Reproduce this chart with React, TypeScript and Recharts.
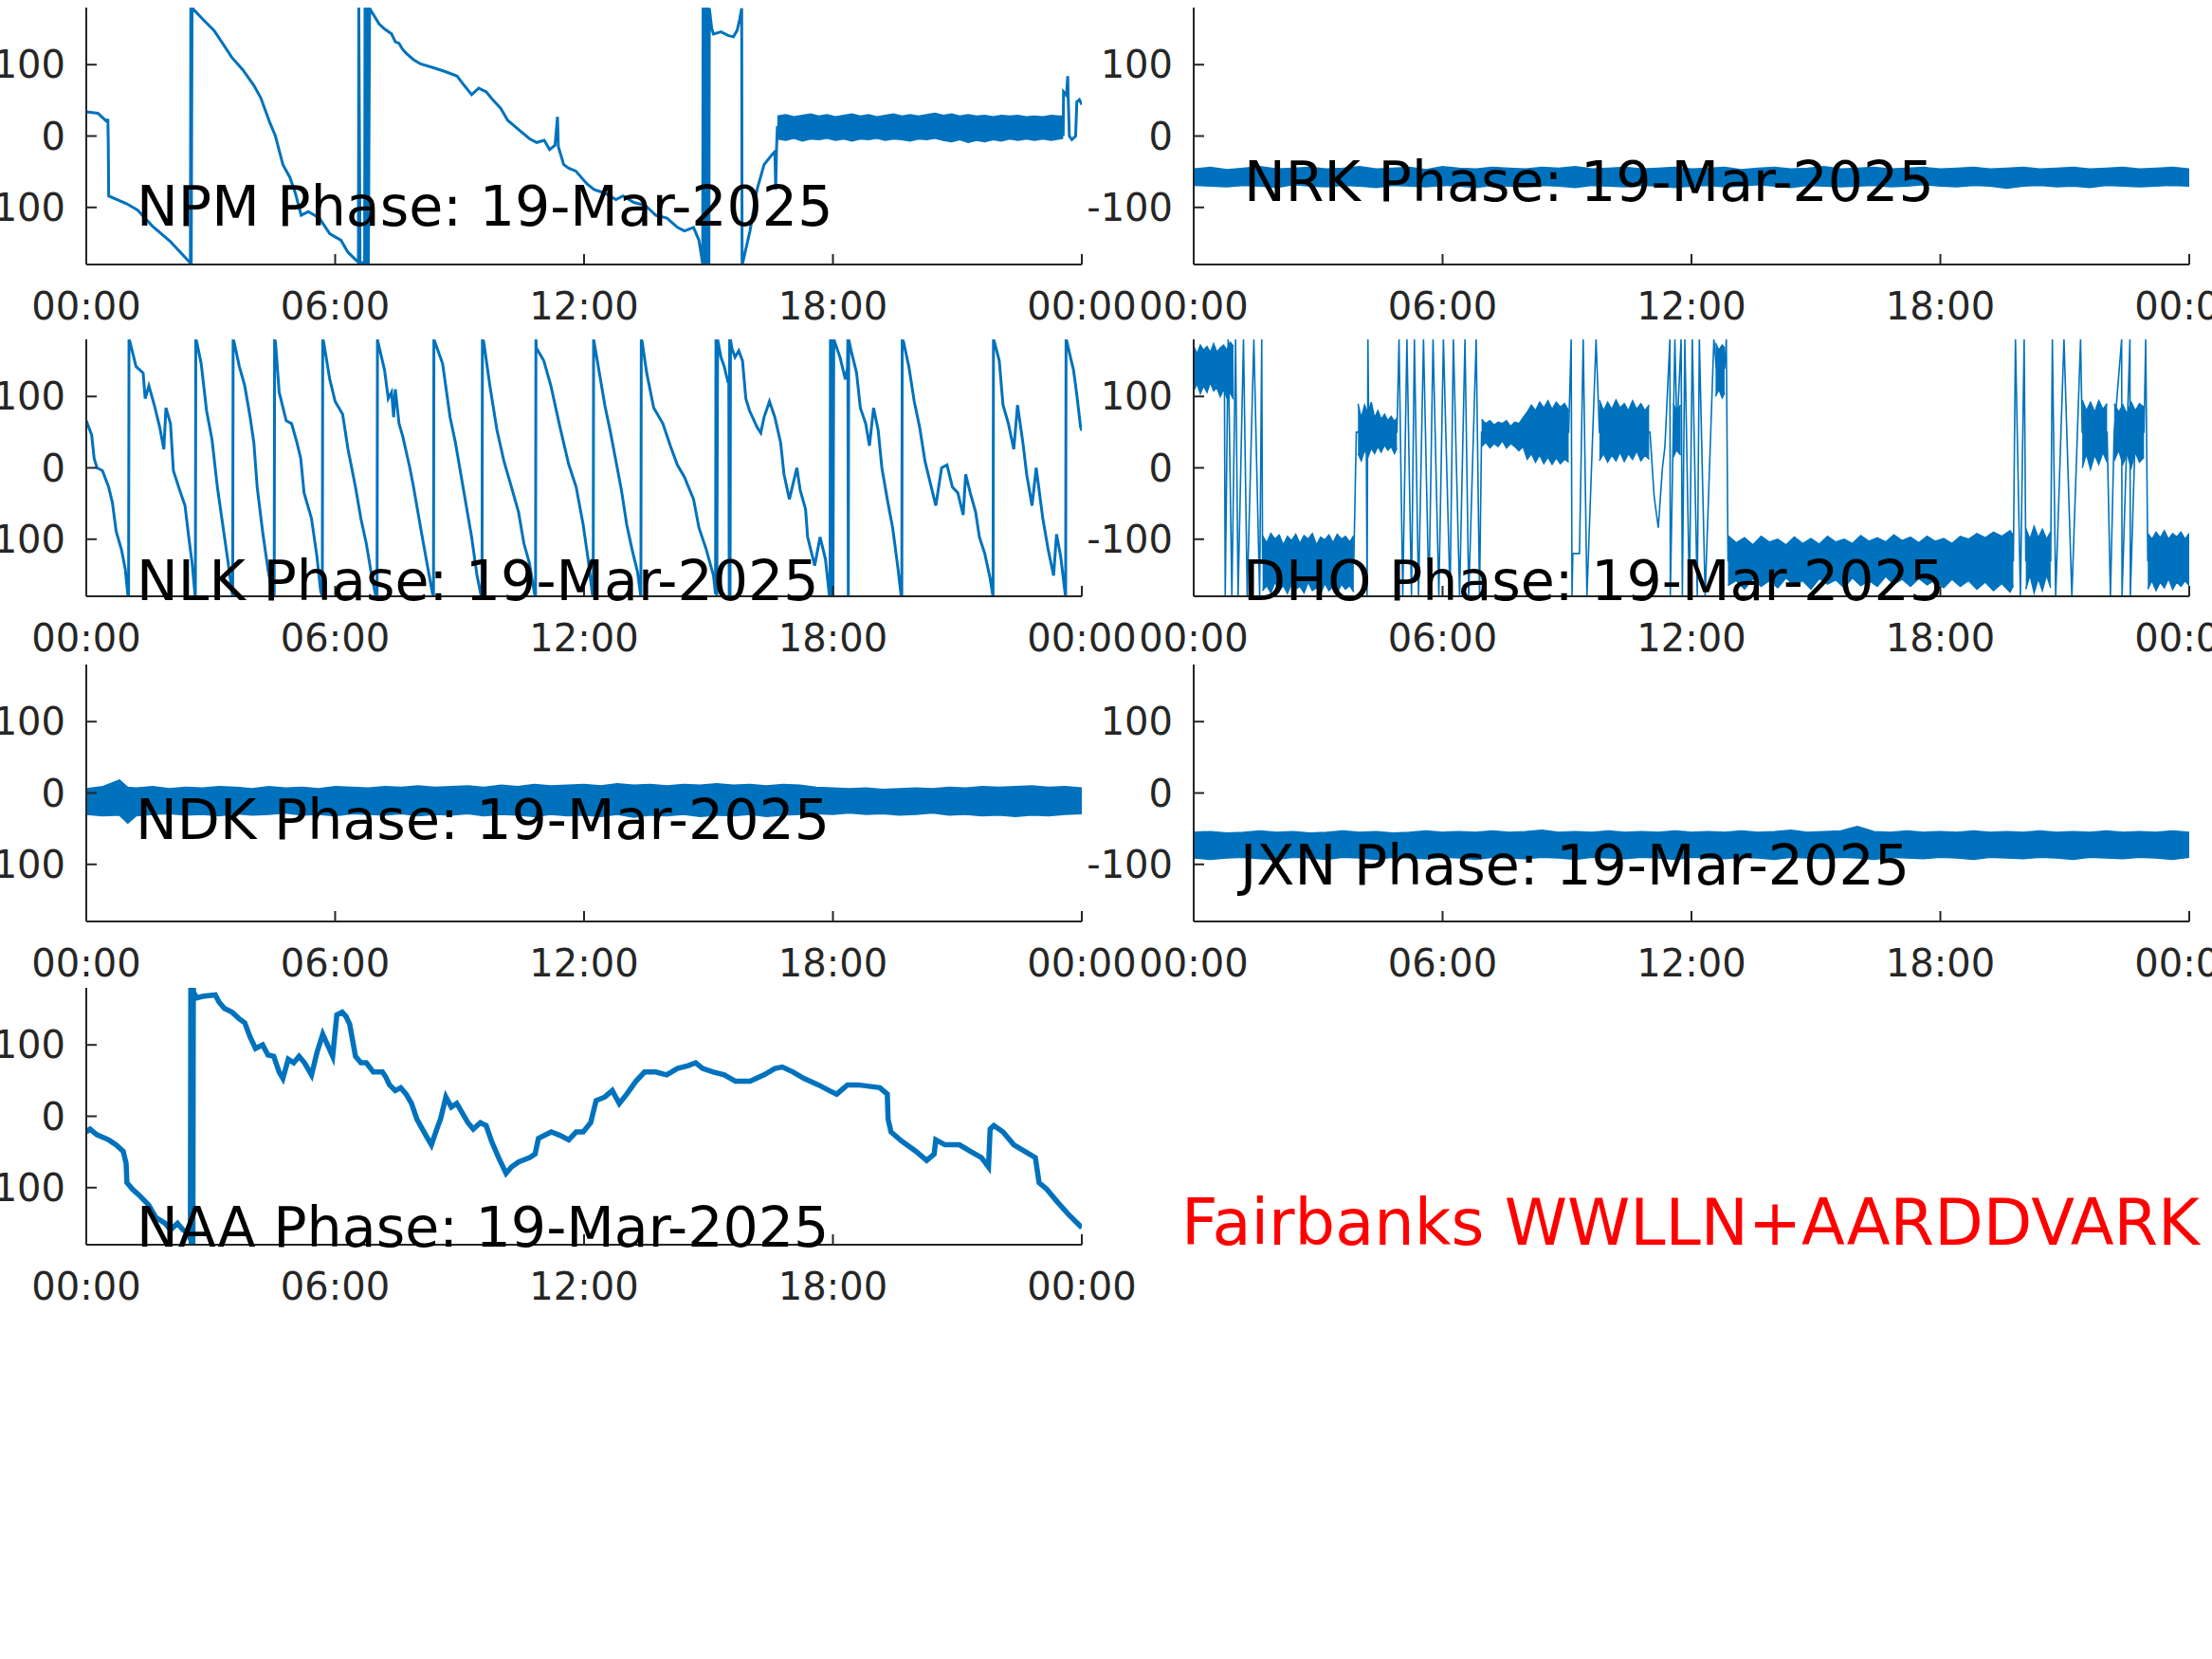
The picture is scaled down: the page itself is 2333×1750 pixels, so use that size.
import React from "react";
import { ComposedChart, Line, Area, XAxis, YAxis } from "recharts";

// [hour, phase deg] traces and [hour, low, high] noise bands

const hourTicks = [0, 6, 12, 18, 24];
const hourLabels = ["00:00", "06:00", "12:00", "18:00", "00:00"];
const phaseTicks = [-100, 0, 100];

const npmTrace: [number, number][] = [
  [0, 34], [0.28, 32], [0.5, 20], [0.52, 24], [0.53, -9], [0.54, -84], [0.98, -95], [1.24, -104],
  [1.59, -126], [2.03, -148], [2.51, -178], [2.52, 180], [2.53, -180], [2.55, 180], [2.56, 179],
  [2.82, 163], [3.08, 148], [3.16, 141], [3.51, 110], [3.77, 93], [4.04, 71], [4.21, 53], [4.43, 18],
  [4.56, 0], [4.74, -40], [4.91, -58], [5.04, -80], [5.18, -111], [5.35, -106], [5.62, -115],
  [5.87, -137], [6.14, -146], [6.31, -163], [6.56, -177], [6.57, 180], [6.6, -179], [6.71, -176],
  [6.72, 180], [6.74, -178], [6.77, -176], [6.78, 180], [6.8, -180], [6.83, 180], [6.84, 178],
  [7.06, 157], [7.19, 150], [7.36, 143], [7.45, 132], [7.54, 130], [7.62, 122], [7.71, 116],
  [7.89, 107], [8.06, 101], [8.41, 95], [8.67, 90], [8.94, 84], [9.11, 71], [9.29, 58], [9.46, 67],
  [9.64, 62], [9.81, 50], [9.99, 39], [10.16, 22], [10.42, 9], [10.69, -4], [10.86, -9], [11.04, -6],
  [11.17, -19], [11.3, -13], [11.36, 27], [11.38, -15], [11.51, -40], [11.63, -45], [11.8, -49],
  [12.07, -67], [12.24, -75], [12.5, -80], [12.77, -89], [12.94, -84], [13.2, -93], [13.47, -97],
  [13.73, -111], [14.0, -115], [14.25, -128], [14.42, -133], [14.64, -128], [14.77, -146],
  [14.86, -179], [14.87, 180], [14.89, -180], [14.91, 180], [14.93, -180], [14.95, 180],
  [14.97, -180], [14.99, 180], [15.01, -180], [15.02, 179], [15.08, 150], [15.12, 143], [15.3, 146],
  [15.47, 141], [15.6, 139], [15.69, 148], [15.75, 163], [15.8, 179], [15.81, -180], [15.82, -179],
  [16.0, -133], [16.17, -75], [16.34, -40], [16.52, -27], [16.6, -22], [16.62, -75], [16.64, -18],
  [16.66, 12], [23.54, 12], [23.55, 0], [23.56, 62], [23.63, 57], [23.66, 84], [23.67, 57],
  [23.7, 0], [23.76, -5], [23.85, 0], [23.88, 48], [23.94, 51], [24, 44],
];

const npmBand: [number, number, number][] = [
  [16.66, -4, 28], [16.86, -6, 30], [17.06, -3, 27], [17.26, -7, 29], [17.46, -4, 31], [17.66, -5, 28],
  [17.86, -3, 30], [18.06, -6, 27], [18.26, -4, 29], [18.46, -7, 31], [18.66, -4, 28], [18.86, -5, 30],
  [19.06, -3, 27], [19.26, -6, 29], [19.46, -4, 31], [19.66, -5, 28], [19.86, -7, 30], [20.06, -4, 28],
  [20.26, -5, 30], [20.46, -3, 32], [20.66, -6, 29], [20.86, -8, 31], [21.06, -5, 28], [21.26, -9, 30],
  [21.46, -6, 28], [21.66, -8, 29], [21.86, -5, 27], [22.06, -7, 29], [22.26, -4, 28], [22.46, -6, 29],
  [22.66, -4, 27], [22.86, -6, 28], [23.06, -4, 27], [23.26, -6, 29], [23.46, -4, 28], [23.55, -3, 28],
];

const nrkBand: [number, number, number][] = [
  [0, -69, -46], [0.4, -70, -44], [0.8, -71, -47], [1.2, -69, -45], [1.6, -70, -43], [2.0, -72, -46],
  [2.4, -68, -45], [2.8, -70, -44], [3.2, -71, -46], [3.6, -69, -45], [4.0, -70, -43], [4.4, -72, -46],
  [4.8, -69, -45], [5.2, -70, -44], [5.6, -71, -47], [6.0, -69, -43], [6.4, -70, -45], [6.8, -72, -46],
  [7.2, -69, -44], [7.6, -70, -45], [8.0, -71, -46], [8.4, -69, -44], [8.8, -70, -45], [9.2, -72, -43],
  [9.6, -69, -46], [10.0, -70, -45], [10.4, -71, -44], [10.8, -69, -46], [11.2, -70, -45], [11.6, -72, -44],
  [12.0, -70, -46], [12.4, -69, -45], [12.8, -71, -44], [13.2, -70, -47], [13.6, -68, -45], [14.0, -70, -44],
  [14.4, -72, -46], [14.8, -69, -45], [15.2, -70, -43], [15.6, -71, -46], [16.0, -70, -45], [16.4, -69, -44],
  [16.8, -71, -46], [17.2, -70, -45], [17.6, -68, -44], [18.0, -70, -46], [18.4, -71, -45], [18.8, -69, -44],
  [19.2, -70, -46], [19.6, -73, -45], [20.0, -70, -44], [20.4, -69, -46], [20.8, -71, -45], [21.2, -70, -44],
  [21.6, -72, -46], [22.0, -69, -45], [22.4, -70, -44], [22.8, -71, -46], [23.2, -70, -45], [23.6, -69, -44],
  [24, -70, -46],
];

const nlkTrace: [number, number][] = [
  [0, 66], [0.13, 46], [0.19, 13], [0.26, 0], [0.39, -4], [0.54, -27], [0.63, -49], [0.72, -89],
  [0.85, -115], [0.94, -142], [1.0, -177], [1.02, -180], [1.03, 180], [1.05, 177], [1.2, 142],
  [1.37, 133], [1.42, 97], [1.51, 115], [1.64, 88], [1.77, 57], [1.87, 26], [1.92, 84], [2.03, 62],
  [2.1, -4], [2.25, -31], [2.38, -53], [2.47, -97], [2.55, -133], [2.62, -177], [2.63, -180],
  [2.64, 180], [2.66, 177], [2.77, 146], [2.9, 80], [3.03, 40], [3.16, -27], [3.29, -80], [3.42, -133],
  [3.51, -173], [3.53, -180], [3.54, 180], [3.56, 177], [3.69, 142], [3.82, 115], [3.95, 71],
  [4.04, 35], [4.12, -27], [4.25, -89], [4.38, -142], [4.49, -177], [4.53, -180], [4.54, 180],
  [4.56, 177], [4.65, 106], [4.82, 66], [4.95, 62], [5.08, 35], [5.17, 13], [5.25, -35], [5.43, -71],
  [5.56, -124], [5.65, -173], [5.69, -180], [5.7, 180], [5.72, 177], [5.87, 124], [6.0, 93],
  [6.18, 75], [6.31, 26], [6.49, -27], [6.62, -71], [6.75, -106], [6.88, -151], [6.97, -177],
  [7.01, -180], [7.02, 180], [7.03, 177], [7.19, 137], [7.28, 97], [7.36, 106], [7.41, 71],
  [7.45, 110], [7.54, 62], [7.63, 44], [7.8, 0], [7.89, -27], [8.06, -84], [8.24, -142], [8.35, -177],
  [8.37, -180], [8.38, 180], [8.4, 177], [8.59, 146], [8.77, 71], [8.9, 35], [9.03, -9], [9.16, -53],
  [9.29, -97], [9.42, -151], [9.51, -177], [9.54, -180], [9.55, 180], [9.58, 177], [9.73, 115],
  [9.9, 53], [10.07, 9], [10.25, -27], [10.42, -62], [10.55, -106], [10.68, -133], [10.81, -177],
  [10.83, -180], [10.84, 180], [10.85, 168], [11.03, 150], [11.2, 115], [11.42, 57], [11.63, 5],
  [11.81, -27], [11.98, -80], [12.11, -133], [12.2, -177], [12.22, -180], [12.23, 180], [12.24, 177],
  [12.37, 133], [12.5, 88], [12.64, 49], [12.77, 9], [12.9, -31], [13.03, -80], [13.16, -115],
  [13.29, -146], [13.36, -177], [13.37, -180], [13.38, 180], [13.4, 177], [13.51, 133], [13.68, 84],
  [13.9, 62], [14.08, 31], [14.25, 4], [14.42, -13], [14.64, -44], [14.77, -84], [14.95, -115],
  [15.12, -151], [15.17, -177], [15.18, 180], [15.2, -180], [15.22, 180], [15.23, 177], [15.3, 155],
  [15.38, 142], [15.47, 120], [15.49, 119], [15.5, -180], [15.51, 180], [15.52, -180], [15.53, 180],
  [15.56, 168], [15.64, 155], [15.73, 164], [15.82, 150], [15.9, 97], [15.99, 80], [16.17, 57],
  [16.26, 49], [16.34, 71], [16.47, 93], [16.6, 71], [16.74, 35], [16.82, -9], [16.95, -44],
  [17.13, 0], [17.21, -31], [17.34, -58], [17.39, -97], [17.56, -137], [17.69, -97], [17.82, -128],
  [17.91, -177], [17.93, -180], [17.94, 180], [17.96, -180], [17.98, 180], [18.0, -180], [18.02, 180],
  [18.04, 177], [18.17, 155], [18.3, 124], [18.35, 140], [18.36, 180], [18.37, -180], [18.38, 180],
  [18.44, 164], [18.57, 133], [18.66, 84], [18.79, 62], [18.88, 31], [18.98, 84], [19.09, 53],
  [19.18, 0], [19.31, -44], [19.44, -84], [19.57, -142], [19.64, -177], [19.66, -180], [19.67, 180],
  [19.7, 177], [19.83, 142], [19.96, 93], [20.09, 57], [20.22, 9], [20.35, -22], [20.48, -53],
  [20.62, 0], [20.75, 4], [20.88, -27], [21.01, -35], [21.14, -66], [21.2, -9], [21.31, -35],
  [21.44, -62], [21.53, -97], [21.66, -120], [21.79, -155], [21.85, -177], [21.86, -180], [21.87, 180],
  [21.89, 177], [22.01, 150], [22.1, 88], [22.23, 62], [22.36, 26], [22.45, 88], [22.58, 35],
  [22.67, -9], [22.8, -53], [22.9, 0], [23.06, -71], [23.19, -115], [23.32, -151], [23.39, -93],
  [23.49, -124], [23.6, -177], [23.61, -180], [23.62, 180], [23.64, 177], [23.71, 159], [23.8, 137],
  [23.88, 102], [23.97, 57], [24, 52],
];

const dhoTrace: [number, number][] = [
  [0, 140], [0.74, 135], [0.76, -180], [0.83, 180], [0.92, -180], [1.01, 180], [1.07, -180], [1.2, 180],
  [1.29, -180], [1.45, 180], [1.59, -180], [1.64, 180], [1.66, -130], [3.86, -130], [3.92, 50],
  [4.16, 50], [4.18, -180], [4.2, 180], [4.22, 50], [4.9, 50], [4.95, 180], [5.04, -180], [5.14, 180],
  [5.25, -180], [5.32, 180], [5.42, -180], [5.54, 180], [5.67, -180], [5.77, 180], [5.91, -180],
  [6.02, 180], [6.18, -180], [6.26, 180], [6.41, -180], [6.54, 180], [6.63, -180], [6.81, 180],
  [6.89, -180], [6.94, 50], [9.04, 50], [9.1, 180], [9.12, -180], [9.14, -120], [9.3, -120],
  [9.39, 180], [9.48, -180], [9.7, 180], [9.78, 50], [11.0, 50], [11.1, -40], [11.2, -84], [11.3, 0],
  [11.36, 30], [11.48, 180], [11.49, -180], [11.6, 180], [11.65, 50], [11.75, 180], [11.78, -180],
  [11.84, 180], [11.95, -180], [12.02, 180], [12.14, -180], [12.19, 180], [12.33, -180], [12.54, 180],
  [12.6, 140], [12.8, 140], [12.84, 180], [12.88, -130], [19.76, -130], [19.81, 180], [19.93, -180],
  [20.02, 180], [20.06, -130], [20.66, -130], [20.7, 180], [20.78, -180], [20.98, 180], [21.17, -180],
  [21.38, 180], [21.42, 50], [22.02, 50], [22.1, -180], [22.19, 50], [22.37, 180], [22.38, -180],
  [22.57, 180], [22.58, -180], [22.7, 50], [22.91, 50], [22.95, 180], [23.0, -130], [24, -130],
];

const dhoBandA: [number, number, number][] = [
  [0, 108, 170], [0.08, 118, 160], [0.16, 104, 172], [0.24, 115, 165], [0.32, 106, 170], [0.4, 120, 162],
  [0.48, 108, 174], [0.56, 112, 162], [0.64, 100, 168], [0.72, 110, 172], [0.8, 98, 165], [0.88, 105, 176],
  [0.96, 96, 170],
];
const dhoBandC: [number, number, number][] = [
  [1.66, -172, -95], [1.76, -165, -105], [1.86, -175, -92], [1.96, -160, -100], [2.06, -172, -94],
  [2.16, -165, -108], [2.26, -176, -96], [2.36, -162, -102], [2.46, -170, -93], [2.56, -166, -106],
  [2.66, -175, -95], [2.76, -160, -100], [2.86, -172, -92], [2.96, -168, -108], [3.06, -176, -97],
  [3.16, -162, -101], [3.26, -172, -94], [3.36, -166, -105], [3.46, -175, -93], [3.56, -163, -100],
  [3.66, -170, -96], [3.76, -165, -104], [3.86, -174, -95],
];
const dhoBandD: [number, number, number][] = [
  [3.96, 20, 90], [4.04, 10, 70], [4.12, 25, 88], [4.2, 15, 75], [4.28, 28, 92], [4.36, 20, 70],
  [4.44, 30, 80], [4.52, 22, 68], [4.6, 32, 75], [4.68, 25, 66], [4.76, 30, 72], [4.84, 20, 65],
  [4.9, 28, 70],
];
const dhoBandE: [number, number, number][] = [
  [6.94, 30, 68], [7.04, 36, 62], [7.14, 28, 66], [7.24, 34, 60], [7.34, 30, 64], [7.44, 38, 62],
  [7.54, 28, 66], [7.64, 34, 58], [7.74, 30, 64], [7.84, 24, 62], [7.94, 30, 70], [8.04, 12, 78],
  [8.14, 20, 88], [8.24, 8, 80], [8.34, 18, 92], [8.44, 6, 84], [8.54, 15, 94], [8.64, 5, 82],
  [8.74, 14, 92], [8.84, 6, 85], [8.94, 12, 90], [9.04, 8, 80],
];
const dhoBandG: [number, number, number][] = [
  [9.78, 10, 95], [9.88, 20, 80], [9.98, 8, 92], [10.08, 18, 82], [10.18, 10, 95], [10.28, 22, 84],
  [10.38, 9, 90], [10.48, 20, 80], [10.58, 12, 94], [10.68, 24, 82], [10.78, 10, 90], [10.88, 18, 80],
  [10.98, 12, 88],
];
const dhoBandI: [number, number, number][] = [
  [11.56, 15, 90], [11.64, 25, 80], [11.74, 18, 88],
];
const dhoBandI2: [number, number, number][] = [
  [12.58, 100, 175], [12.66, 110, 165], [12.74, 98, 172], [12.8, 105, 168],
];
const dhoBandJ: [number, number, number][] = [
  [12.88, -165, -95], [13.08, -158, -105], [13.28, -170, -98], [13.48, -155, -108], [13.68, -166, -96],
  [13.88, -158, -104], [14.08, -168, -100], [14.28, -154, -108], [14.48, -165, -97], [14.68, -158, -106],
  [14.88, -170, -99], [15.08, -155, -107], [15.28, -163, -96], [15.48, -157, -104], [15.68, -168, -100],
  [15.88, -154, -106], [16.08, -165, -95], [16.28, -158, -103], [16.48, -166, -98], [16.68, -152, -104],
  [16.88, -163, -94], [17.08, -156, -102], [17.28, -166, -97], [17.48, -155, -105], [17.68, -164, -96],
  [17.88, -157, -103], [18.08, -168, -99], [18.28, -156, -106], [18.48, -166, -96], [18.68, -158, -100],
  [18.88, -170, -92], [19.08, -160, -98], [19.28, -172, -90], [19.48, -162, -96], [19.68, -174, -88],
  [19.76, -165, -95],
];
const dhoBandK1: [number, number, number][] = [
  [20.06, -170, -85], [20.16, -150, -100], [20.26, -175, -82], [20.36, -155, -98], [20.46, -172, -86],
  [20.56, -150, -100], [20.66, -168, -90],
];
const dhoBandK2: [number, number, number][] = [
  [21.42, 0, 95], [21.52, 20, 80], [21.62, -2, 92], [21.72, 18, 78], [21.82, 5, 94], [21.92, 22, 82],
  [22.02, 8, 90],
];
const dhoBandK3: [number, number, number][] = [
  [22.19, 10, 90], [22.3, 25, 78], [22.4, 5, 88], [22.5, 20, 75], [22.6, 0, 92], [22.7, 22, 80],
  [22.8, 8, 90], [22.91, 15, 85],
];
const dhoBandL: [number, number, number][] = [
  [23.0, -170, -92], [23.1, -158, -100], [23.2, -172, -90], [23.3, -160, -98], [23.4, -168, -88],
  [23.5, -155, -100], [23.6, -170, -92], [23.7, -160, -97], [23.8, -166, -90], [23.9, -158, -100],
  [24, -165, -92],
];

const ndkBand: [number, number, number][] = [
  [0, -30, 6], [0.4, -32, 9], [0.8, -31, 18], [1.0, -42, 8], [1.2, -32, 7], [1.6, -30, 9], [2.0, -29, 6],
  [2.4, -31, 8], [2.8, -30, 7], [3.2, -32, 9], [3.6, -29, 8], [4.0, -31, 6], [4.4, -30, 9], [4.8, -28, 7],
  [5.2, -31, 8], [5.6, -30, 6], [6.0, -32, 9], [6.4, -29, 8], [6.8, -30, 7], [7.2, -31, 9], [7.6, -29, 8],
  [8.0, -32, 10], [8.4, -30, 8], [8.8, -31, 9], [9.2, -29, 10], [9.6, -32, 8], [10.0, -30, 11],
  [10.4, -31, 9], [10.8, -33, 12], [11.2, -30, 10], [11.6, -32, 11], [12.0, -31, 12], [12.4, -33, 10],
  [12.8, -30, 13], [13.2, -34, 11], [13.6, -31, 12], [14.0, -32, 10], [14.4, -30, 12], [14.8, -33, 11],
  [15.2, -31, 13], [15.6, -32, 11], [16.0, -30, 12], [16.4, -33, 10], [16.8, -31, 12], [17.2, -30, 11],
  [17.6, -29, 8], [18.0, -30, 7], [18.4, -28, 6], [18.8, -30, 7], [19.2, -29, 5], [19.6, -31, 6],
  [20.0, -30, 7], [20.4, -28, 6], [20.8, -31, 8], [21.2, -30, 7], [21.6, -32, 9], [22.0, -31, 8],
  [22.4, -33, 9], [22.8, -31, 10], [23.2, -32, 8], [23.6, -30, 9], [24, -29, 7],
];

const jxnBand: [number, number, number][] = [
  [0, -91, -55], [0.4, -93, -54], [0.8, -91, -56], [1.2, -90, -55], [1.6, -92, -53], [2.0, -93, -55],
  [2.4, -90, -54], [2.8, -91, -56], [3.2, -93, -55], [3.6, -90, -53], [4.0, -91, -55], [4.4, -93, -54],
  [4.8, -90, -56], [5.2, -91, -55], [5.6, -92, -53], [6.0, -90, -55], [6.4, -91, -54], [6.8, -93, -55],
  [7.2, -90, -53], [7.6, -91, -55], [8.0, -92, -54], [8.4, -90, -52], [8.8, -91, -55], [9.2, -93, -54],
  [9.6, -90, -55], [10.0, -91, -53], [10.4, -92, -55], [10.8, -90, -54], [11.2, -91, -55], [11.6, -93, -53],
  [12.0, -90, -55], [12.4, -91, -54], [12.8, -92, -55], [13.2, -90, -53], [13.6, -91, -55], [14.0, -93, -54],
  [14.4, -90, -52], [14.8, -91, -55], [15.2, -92, -54], [15.6, -90, -53], [16.0, -91, -47], [16.4, -93, -54],
  [16.8, -90, -55], [17.2, -91, -53], [17.6, -92, -55], [18.0, -90, -54], [18.4, -91, -55], [18.8, -93, -53],
  [19.2, -90, -55], [19.6, -91, -54], [20.0, -92, -55], [20.4, -90, -53], [20.8, -91, -55], [21.2, -93, -54],
  [21.6, -90, -55], [22.0, -91, -53], [22.4, -92, -55], [22.8, -90, -54], [23.2, -91, -55], [23.6, -93, -53],
  [24, -90, -55],
];

const naaTrace: [number, number][] = [
  [0, -22], [0.09, -18], [0.26, -26], [0.54, -33], [0.72, -40], [0.89, -49], [0.96, -66], [0.98, -93],
  [1.11, -102], [1.28, -111], [1.5, -124], [1.68, -142], [1.9, -150], [2.03, -159], [2.2, -150],
  [2.33, -159], [2.46, -164], [2.51, -173], [2.52, 180], [2.53, -180], [2.54, 180], [2.55, -180],
  [2.56, 180], [2.57, -180], [2.58, 180], [2.59, 173], [2.67, 166], [2.8, 168], [3.11, 170],
  [3.2, 160], [3.33, 151], [3.51, 146], [3.68, 137], [3.82, 131], [3.95, 111], [4.08, 95], [4.25, 100],
  [4.38, 86], [4.52, 84], [4.65, 62], [4.74, 53], [4.87, 80], [5.0, 75], [5.13, 84], [5.26, 75],
  [5.43, 58], [5.56, 89], [5.7, 115], [5.83, 98], [5.94, 84], [6.04, 142], [6.17, 146], [6.26, 140],
  [6.35, 129], [6.49, 84], [6.62, 75], [6.75, 75], [6.92, 62], [7.14, 62], [7.22, 55], [7.31, 44],
  [7.45, 36], [7.58, 40], [7.71, 31], [7.84, 18], [7.97, -4], [8.19, -27], [8.32, -40], [8.45, -18],
  [8.54, -4], [8.67, 27], [8.8, 13], [8.93, 18], [9.06, 5], [9.2, -9], [9.33, -18], [9.5, -9],
  [9.64, -13], [9.77, -35], [9.94, -58], [10.12, -80], [10.25, -71], [10.42, -64], [10.69, -58],
  [10.82, -53], [10.9, -31], [11.04, -27], [11.21, -22], [11.43, -27], [11.63, -33], [11.81, -22],
  [11.98, -22], [12.16, -9], [12.29, 22], [12.5, 27], [12.68, 36], [12.85, 18], [13.03, 31],
  [13.25, 49], [13.46, 62], [13.73, 62], [13.99, 58], [14.25, 67], [14.51, 71], [14.69, 75],
  [14.86, 67], [15.12, 62], [15.38, 58], [15.65, 49], [16.0, 49], [16.34, 58], [16.6, 67],
  [16.78, 69], [17.04, 62], [17.3, 53], [17.65, 44], [17.91, 36], [18.09, 31], [18.35, 44],
  [18.61, 44], [18.87, 42], [19.13, 40], [19.31, 31], [19.33, -4], [19.4, -22], [19.66, -35],
  [20.0, -49], [20.26, -62], [20.44, -53], [20.48, -33], [20.7, -40], [21.05, -40], [21.31, -49],
  [21.58, -58], [21.75, -71], [21.79, -18], [21.88, -13], [22.1, -22], [22.36, -40], [22.62, -49],
  [22.88, -58], [22.97, -93], [23.15, -102], [23.41, -120], [23.67, -137], [24, -156],
];

const BLUE = "#0072BD";
const AXIS = "#262626";
const FONT = "'DejaVu Sans', sans-serif";

const PLOT_W = 1050;
const PLOT_H = 271;
const PAD_L = 140;
const PAD_T = 10;
const PAD_R = 70;
const PAD_B = 70;
const TICK = 11;

const BottomTick = (props: any) => {
  const { x, y, payload } = props;
  const label = hourLabels[hourTicks.indexOf(payload.value)];
  return (
    <g>
      <line x1={x} y1={y} x2={x} y2={y - TICK} stroke={AXIS} strokeWidth={2} />
      <text x={x} y={y + 58} textAnchor="middle" fontSize={40} fontFamily={FONT} fill={AXIS}>
        {label}
      </text>
    </g>
  );
};

const TopTick = (props: any) => {
  const { x, y } = props;
  return <line x1={x} y1={y} x2={x} y2={y + TICK} stroke={AXIS} strokeWidth={2} />;
};

const LeftTick = (props: any) => {
  const { x, y, payload } = props;
  return (
    <g>
      <line x1={x} y1={y} x2={x + TICK} y2={y} stroke={AXIS} strokeWidth={2} />
      <text x={x - 22} y={y + 14} textAnchor="end" fontSize={40} fontFamily={FONT} fill={AXIS}>
        {payload.value}
      </text>
    </g>
  );
};

const RightTick = (props: any) => {
  const { x, y } = props;
  return <line x1={x} y1={y} x2={x - TICK} y2={y} stroke={AXIS} strokeWidth={2} />;
};

interface PanelProps {
  left: number;
  top: number;
  trace?: [number, number][];
  bands?: [number, number, number][][];
  lineWidth?: number;
}

function Panel({ left, top, trace = [], bands = [], lineWidth = 2 }: PanelProps) {
  const lineData = trace.map(([t, v]) => ({ t, v }));
  const axisLine = { stroke: AXIS, strokeWidth: 2 };
  return (
    <div style={{ position: "absolute", left: left - PAD_L, top: top - PAD_T }}>
      <ComposedChart
        width={PAD_L + PLOT_W + PAD_R}
        height={PAD_T + PLOT_H + PAD_B}
        margin={{ top: PAD_T, right: PAD_R, bottom: 0, left: 0 }}
      >
        <XAxis
          xAxisId="b"
          dataKey="t"
          type="number"
          domain={[0, 24]}
          ticks={hourTicks}
          allowDataOverflow
          height={PAD_B}
          tickSize={0}
          tickMargin={0}
          tick={BottomTick}
          axisLine={axisLine}
          interval={0}
        />
        <XAxis
          xAxisId="t"
          orientation="top"
          type="number"
          domain={[0, 24]}
          ticks={hourTicks}
          allowDataOverflow
          height={0}
          tickSize={0}
          tickMargin={0}
          tick={TopTick}
          axisLine={axisLine}
          interval={0}
        />
        <YAxis
          yAxisId="l"
          type="number"
          domain={[-180, 180]}
          ticks={phaseTicks}
          allowDataOverflow
          width={PAD_L}
          tickSize={0}
          tickMargin={0}
          tick={LeftTick}
          axisLine={axisLine}
          interval={0}
        />
        <YAxis
          yAxisId="r"
          orientation="right"
          type="number"
          domain={[-180, 180]}
          ticks={phaseTicks}
          allowDataOverflow
          width={0}
          tickSize={0}
          tickMargin={0}
          tick={RightTick}
          axisLine={axisLine}
          interval={0}
        />
        {bands.map((band, i) => (
          <Area
            key={"band" + i}
            xAxisId="b"
            yAxisId="l"
            data={band.map(([t, lo, hi]) => ({ t, r: [lo, hi] }))}
            dataKey="r"
            type="linear"
            stroke={BLUE}
            strokeWidth={1.5}
            fill={BLUE}
            fillOpacity={1}
            dot={false}
            activeDot={false}
            isAnimationActive={false}
          />
        ))}
        {lineData.length > 0 && (
          <Line
            xAxisId="b"
            yAxisId="l"
            data={lineData}
            dataKey="v"
            type="linear"
            stroke={BLUE}
            strokeWidth={lineWidth}
            dot={false}
            activeDot={false}
            isAnimationActive={false}
          />
        )}
      </ComposedChart>
    </div>
  );
}

const titles = [
  { text: "NPM Phase: 19-Mar-2025", x: 144, y: 238 },
  { text: "NRK Phase: 19-Mar-2025", x: 1312, y: 212 },
  { text: "NLK Phase: 19-Mar-2025", x: 144, y: 633 },
  { text: "DHO Phase: 19-Mar-2025", x: 1311, y: 633 },
  { text: "NDK Phase: 19-Mar-2025", x: 143, y: 885 },
  { text: "JXN Phase: 19-Mar-2025", x: 1308, y: 933 },
  { text: "NAA Phase: 19-Mar-2025", x: 144, y: 1315 },
];

export default function App() {
  return (
    <div
      style={{
        position: "absolute",
        left: 0,
        top: 0,
        width: 2333,
        height: 1750,
        background: "#ffffff",
        overflow: "hidden",
      }}
    >
      <Panel left={91} top={8} trace={npmTrace} bands={[npmBand]} lineWidth={3} />
      <Panel left={1259} top={8} bands={[nrkBand]} />
      <Panel left={91} top={358} trace={nlkTrace} lineWidth={3} />
      <Panel
        left={1259}
        top={358}
        trace={dhoTrace}
        lineWidth={1.6}
        bands={[dhoBandA, dhoBandC, dhoBandD, dhoBandE, dhoBandG, dhoBandI, dhoBandI2, dhoBandJ, dhoBandK1, dhoBandK2, dhoBandK3, dhoBandL]}
      />
      <Panel left={91} top={701} bands={[ndkBand]} />
      <Panel left={1259} top={701} bands={[jxnBand]} />
      <Panel left={91} top={1042} trace={naaTrace} lineWidth={5.5} />
      <svg
        width={2333}
        height={1750}
        style={{ position: "absolute", left: 0, top: 0, pointerEvents: "none" }}
      >
        {titles.map((t) => (
          <text key={t.text} x={t.x} y={t.y} fontSize={58.6} fontFamily={FONT} fill="#000000">
            {t.text}
          </text>
        ))}
        <text x={1246} y={1313} fontSize={67} fontFamily={FONT} fill="#FF0000">
          Fairbanks WWLLN+AARDDVARK
        </text>
      </svg>
    </div>
  );
}
